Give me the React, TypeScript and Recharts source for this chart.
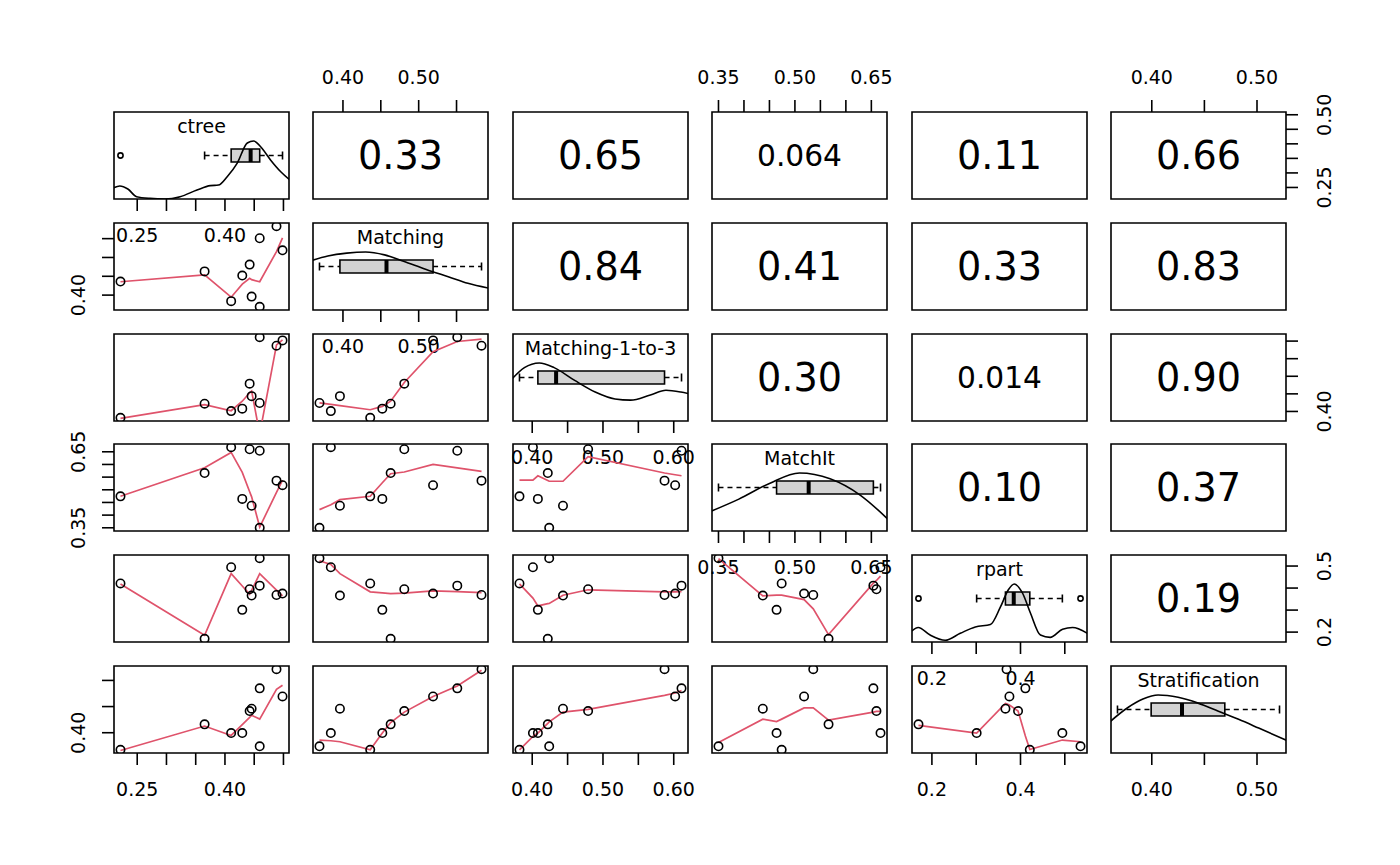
import React from "react";
import {
  ComposedChart,
  Scatter,
  Line,
  XAxis,
  YAxis,
  ReferenceArea,
  ReferenceLine,
} from "recharts";

// ---- data (10 runs) ----
const names = ["ctree", "Matching", "Matching-1-to-3", "MatchIt", "rpart", "Stratification"];

const ctree = [0.2214, 0.3652, 0.4106, 0.4296, 0.4422, 0.4456, 0.4594, 0.4594, 0.4881, 0.4984];
const matching = [0.436, 0.463, 0.384, 0.452, 0.481, 0.396, 0.369, 0.551, 0.583, 0.519];
const matching13 = [0.382, 0.422, 0.401, 0.408, 0.479, 0.4435, 0.424, 0.611, 0.587, 0.602];
const matchit = [0.474, 0.566, 0.668, 0.464, 0.66, 0.437, 0.35, 0.654, 0.536, 0.518];
const rpart = [0.421, 0.1697, 0.4945, 0.301, 0.3945, 0.366, 0.5355, 0.411, 0.3685, 0.375];
const strat = [0.3674, 0.416, 0.3994, 0.3994, 0.4414, 0.446, 0.374, 0.4848, 0.5214, 0.4694];

// correlations, upper triangle, row by row
const corrLabels = [
  ["0.33", "0.65", "0.064", "0.11", "0.66"],
  ["0.84", "0.41", "0.33", "0.83"],
  ["0.30", "0.014", "0.90"],
  ["0.10", "0.37"],
  ["0.19"],
];

// smoother (red) fitted values, same run order as the data
const smMatchingCtree = [0.4355, 0.4538, 0.3945, 0.4292, 0.4445, 0.441, 0.4355, 0.4355, 0.5156, 0.552];
const smM13Ctree = [0.3805, 0.4195, 0.402, 0.429, 0.4532, 0.458, 0.336, 0.336, 0.589, 0.6035];
const smMatchitCtree = [0.4744, 0.5867, 0.6475, 0.5686, 0.4924, 0.4722, 0.3528, 0.3528, 0.4896, 0.538];
const smRpartCtree = [0.4188, 0.1855, 0.4655, 0.4095, 0.3722, 0.389, 0.4655, 0.4655, 0.3908, 0.3642];
const smStratCtree = [0.366, 0.4128, 0.3948, 0.4156, 0.4294, 0.4334, 0.426, 0.426, 0.4828, 0.4908];
const smM13Matching = [0.4049, 0.4291, 0.4203, 0.4145, 0.4823, 0.4166, 0.4241, 0.5988, 0.6058, 0.5696];
const smMatchitMatching = [0.4744, 0.5635, 0.4405, 0.5278, 0.5702, 0.4609, 0.4217, 0.5864, 0.573, 0.6002];
const smRpartMatching = [0.3829, 0.3748, 0.5075, 0.3782, 0.3768, 0.4655, 0.5243, 0.3842, 0.3795, 0.3876];
const smStratMatching = [0.3674, 0.4194, 0.3847, 0.3994, 0.4394, 0.3828, 0.3859, 0.4894, 0.5194, 0.4694];
const smMatchitM13 = [0.5379, 0.5364, 0.5379, 0.5553, 0.6311, 0.5337, 0.5337, 0.5553, 0.5662, 0.5594];
const smRpartM13 = [0.4188, 0.329, 0.3546, 0.3189, 0.3922, 0.3675, 0.33, 0.3842, 0.3829, 0.3829];
const smStratM13 = [0.3674, 0.418, 0.3928, 0.3994, 0.4448, 0.4394, 0.4208, 0.4808, 0.4714, 0.476];
const smRpartMatchit = [0.3675, 0.1888, 0.4543, 0.3675, 0.4343, 0.3643, 0.5338, 0.4222, 0.3055, 0.3475];
const smStratMatchit = [0.426, 0.424, 0.4408, 0.4214, 0.4408, 0.426, 0.3814, 0.4394, 0.4474, 0.4474];
const smStratRpart = [0.368, 0.414, 0.386, 0.3994, 0.4414, 0.456, 0.3828, 0.3936, 0.4554, 0.4528];

// density curves on the diagonal, [value, height scaled to peak 1]
const densCtree = [
  [0.2099, 0.195], [0.2202, 0.224], [0.234, 0.172], [0.249, 0.04], [0.2718, 0.01],
  [0.2976, 0.0], [0.3234, 0.04], [0.3522, 0.155], [0.375, 0.23], [0.3888, 0.24],
  [0.4038, 0.385], [0.421, 0.62], [0.4382, 0.966], [0.449, 1.0], [0.461, 0.9],
  [0.4782, 0.67], [0.4954, 0.47], [0.512, 0.32],
];
const densMatching = [
  [0.358, 0.85], [0.38, 0.93], [0.405, 0.98], [0.43, 1.0], [0.455, 0.95],
  [0.48, 0.84], [0.51, 0.7], [0.54, 0.57], [0.565, 0.46], [0.595, 0.37],
];
const densM13 = [
  [0.371, 0.72], [0.389, 0.92], [0.41, 1.0], [0.431, 0.92], [0.46, 0.7],
  [0.489, 0.5], [0.517, 0.38], [0.539, 0.36], [0.567, 0.45], [0.589, 0.53],
  [0.61, 0.5], [0.622, 0.47],
];
const densMatchit = [
  [0.335, 0.34], [0.39, 0.55], [0.45, 0.82], [0.509, 1.0], [0.569, 0.9],
  [0.628, 0.62], [0.683, 0.2],
];
const densRpart = [
  [0.155, 0.19], [0.169, 0.25], [0.196, 0.12], [0.23, 0.03], [0.264, 0.15],
  [0.298, 0.26], [0.332, 0.3], [0.3545, 0.6], [0.3726, 0.9], [0.386, 1.0],
  [0.404, 0.85], [0.4224, 0.5], [0.445, 0.12], [0.467, 0.08], [0.495, 0.22],
  [0.5176, 0.25], [0.551, 0.15],
];
const densStrat = [
  [0.359, 0.52], [0.377, 0.78], [0.3916, 0.93], [0.406, 1.0], [0.425, 0.96],
  [0.444, 0.86], [0.4633, 0.72], [0.4825, 0.58], [0.5016, 0.43], [0.528, 0.22],
];

// axis ticks and the labels R managed to print
const ticks = [
  [0.25, 0.3, 0.35, 0.4, 0.45, 0.5],
  [0.4, 0.45, 0.5, 0.55],
  [0.4, 0.45, 0.5, 0.55, 0.6],
  [0.35, 0.4, 0.45, 0.5, 0.55, 0.6, 0.65],
  [0.2, 0.3, 0.4, 0.5],
  [0.4, 0.45, 0.5],
];
const hLabels = [
  ["0.25", "0.40"],
  ["0.40", "0.50"],
  ["0.40", "0.50", "0.60"],
  ["0.35", "0.50", "0.65"],
  ["0.2", "0.4"],
  ["0.40", "0.50"],
];
const vLabels = [["0.25", "0.50"], ["0.40"], ["0.40"], ["0.35", "0.65"], ["0.2", "0.5"], ["0.40"]];

const vars = [ctree, matching, matching13, matchit, rpart, strat];
const dens = [densCtree, densMatching, densM13, densMatchit, densRpart, densStrat];
const smooth: Record<string, number[]> = {
  "1-0": smMatchingCtree,
  "2-0": smM13Ctree,
  "3-0": smMatchitCtree,
  "4-0": smRpartCtree,
  "5-0": smStratCtree,
  "2-1": smM13Matching,
  "3-1": smMatchitMatching,
  "4-1": smRpartMatching,
  "5-1": smStratMatching,
  "3-2": smMatchitM13,
  "4-2": smRpartM13,
  "5-2": smStratM13,
  "4-3": smRpartMatchit,
  "5-3": smStratMatchit,
  "5-4": smStratRpart,
};

// ---- layout ----
const FONT = '"DejaVu Sans", Verdana, sans-serif';
const COL0 = 114;
const COL_STEP = 199.4;
const ROW0 = 112;
const ROW_STEP = 110.8;
const PW = 175;
const PH = 87;
const M = 50;
const RED = "#DF536B";
const LBL = 19;
const LW = 1.6;

const ext = (v: number[]) => {
  const lo = Math.min(...v);
  const hi = Math.max(...v);
  const r = hi - lo;
  return [lo - 0.04 * r, hi + 0.04 * r];
};

const fivenum = (v: number[]) => {
  const s = [...v].sort((a, b) => a - b);
  const n = s.length;
  const n4 = Math.floor((n + 3) / 2) / 2;
  return [1, n4, (n + 1) / 2, n + 1 - n4, n].map(
    (k) => 0.5 * (s[Math.floor(k) - 1] + s[Math.ceil(k) - 1])
  );
};

const makeTick = (side: string, labels: string[]) => (p: any) => {
  const v = p.payload.value;
  const lab = labels.find((l) => Math.abs(parseFloat(l) - v) < 1e-6);
  if (!lab) return <g />;
  if (side === "bottom")
    return (
      <text x={p.x} y={p.y + 31} textAnchor="middle" fontSize={LBL} fill="#000">
        {lab}
      </text>
    );
  if (side === "top")
    return (
      <text x={p.x} y={p.y - 16} textAnchor="middle" fontSize={LBL} fill="#000">
        {lab}
      </text>
    );
  const bx = side === "left" ? p.x - 17 : p.x + 33;
  return (
    <text
      x={bx}
      y={p.y}
      transform={`rotate(-90 ${bx} ${p.y})`}
      textAnchor="middle"
      fontSize={LBL}
      fill="#000"
    >
      {lab}
    </text>
  );
};

const circle = (r: number) => (p: any) =>
  <circle cx={p.cx} cy={p.cy} r={r} fill="none" stroke="#000" strokeWidth={1.6} />;

const tickLine = { stroke: "#000", strokeWidth: LW };

function Panel({ i, j }: { i: number; j: number }) {
  const xv = vars[j];
  const yv = vars[i];
  const xd = ext(xv);
  const diag = i === j;
  const yd = diag ? [0, 1.5] : ext(yv);
  const pts = xv.map((x, k) => ({ x, y: yv[k] }));

  const showBottom = diag || (i === 5 && j % 2 === 0);
  const showTop = i === 0 && j % 2 === 1;
  const showLeft = j === 0 && i % 2 === 1;
  const showRight = j === 5 && i % 2 === 0;
  const xSide = showTop ? "top" : "bottom";
  const ySide = showLeft ? "left" : "right";

  // axes take 1px, give it back from the margin
  const margin = {
    top: M - (showTop ? 1 : 0),
    bottom: M - (showBottom ? 1 : 0),
    left: M - (showLeft ? 1 : 0),
    right: M - (showRight ? 1 : 0),
  };

  let body: React.ReactNode = null;
  let label: any = undefined;

  if (i > j) {
    const sm = smooth[`${i}-${j}`];
    const order = xv.map((_, k) => k).sort((a, b) => xv[a] - xv[b]);
    const line = order.map((k) => ({ x: xv[k], y: sm[k] }));
    body = [
      <Line
        key="sm"
        data={line}
        dataKey="y"
        type="linear"
        stroke={RED}
        strokeWidth={1.7}
        dot={false}
        isAnimationActive={false}
      />,
      <Scatter key="pts" data={pts} dataKey="y" shape={circle(4.2)} isAnimationActive={false} />,
    ];
  } else if (i < j) {
    const txt = corrLabels[i][j - i - 1];
    const em = txt.replace(".", "").length * 0.636 + 0.318;
    label = { value: txt, position: "center", fontSize: 85 / em, fill: "#000" };
    body = <Scatter data={pts} dataKey="y" shape={() => <g />} isAnimationActive={false} />;
  } else {
    const [, q1, med, q3] = fivenum(xv);
    const iqr = q3 - q1;
    const inside = xv.filter((v) => v >= q1 - 1.5 * iqr && v <= q3 + 1.5 * iqr);
    const wLo = Math.min(...inside);
    const wHi = Math.max(...inside);
    const outl = xv.filter((v) => v < wLo || v > wHi).map((x) => ({ x, y: 0.75 }));
    const d = dens[i].map(([x, y]) => ({ x, y }));
    const cy = 0.75;
    const bh = 0.112;
    const ch = 0.069;
    label = { value: names[i], position: "insideTop", offset: 8, fontSize: LBL, fill: "#000" };
    body = [
      <Line
        key="dens"
        data={d}
        dataKey="y"
        type="monotone"
        stroke="#000"
        strokeWidth={LW}
        dot={false}
        isAnimationActive={false}
      />,
      <ReferenceLine key="wl" segment={[{ x: wLo, y: cy }, { x: q1, y: cy }]} stroke="#000" strokeWidth={LW} strokeDasharray="5 4" />,
      <ReferenceLine key="wh" segment={[{ x: q3, y: cy }, { x: wHi, y: cy }]} stroke="#000" strokeWidth={LW} strokeDasharray="5 4" />,
      <ReferenceLine key="cl" segment={[{ x: wLo, y: cy - ch }, { x: wLo, y: cy + ch }]} stroke="#000" strokeWidth={LW} />,
      <ReferenceLine key="ch" segment={[{ x: wHi, y: cy - ch }, { x: wHi, y: cy + ch }]} stroke="#000" strokeWidth={LW} />,
      <ReferenceArea key="box" x1={q1} x2={q3} y1={cy - bh} y2={cy + bh} fill="#D3D3D3" fillOpacity={1} stroke="#000" strokeWidth={LW} ifOverflow="visible" />,
      <ReferenceLine key="med" segment={[{ x: med, y: cy - bh }, { x: med, y: cy + bh }]} stroke="#000" strokeWidth={4} />,
      <Scatter key="out" data={outl} dataKey="y" shape={circle(2.6)} isAnimationActive={false} />,
    ];
  }

  return (
    <div style={{ position: "absolute", left: COL0 + j * COL_STEP - M, top: ROW0 + i * ROW_STEP - M }}>
      <ComposedChart width={PW + 2 * M} height={PH + 2 * M} margin={margin}>
        {showBottom || showTop ? (
          <XAxis
            type="number"
            dataKey="x"
            domain={xd}
            allowDataOverflow
            orientation={xSide as any}
            height={1}
            ticks={ticks[j]}
            interval={0}
            tickSize={12}
            tickMargin={0}
            axisLine={false}
            tickLine={tickLine}
            tick={makeTick(xSide, hLabels[j])}
          />
        ) : (
          <XAxis type="number" dataKey="x" domain={xd} allowDataOverflow hide />
        )}
        {showLeft || showRight ? (
          <YAxis
            type="number"
            dataKey="y"
            domain={yd}
            allowDataOverflow
            orientation={ySide as any}
            width={1}
            ticks={ticks[i]}
            interval={0}
            tickSize={12}
            tickMargin={0}
            axisLine={false}
            tickLine={tickLine}
            tick={makeTick(ySide, vLabels[i])}
          />
        ) : (
          <YAxis type="number" dataKey="y" domain={yd} allowDataOverflow hide />
        )}
        {body}
        <ReferenceArea
          x1={xd[0]}
          x2={xd[1]}
          y1={yd[0]}
          y2={yd[1]}
          fill="none"
          stroke="#000"
          strokeWidth={LW}
          ifOverflow="visible"
          label={label}
        />
      </ComposedChart>
    </div>
  );
}

export default function App() {
  const cells: React.ReactNode[] = [];
  for (let i = 0; i < 6; i++) {
    for (let j = 0; j < 6; j++) {
      cells.push(<Panel key={`${i}-${j}`} i={i} j={j} />);
    }
  }
  return (
    <div
      style={{
        position: "absolute",
        left: 0,
        top: 0,
        width: 1400,
        height: 865,
        background: "#fff",
        fontFamily: FONT,
      }}
    >
      {cells}
    </div>
  );
}
